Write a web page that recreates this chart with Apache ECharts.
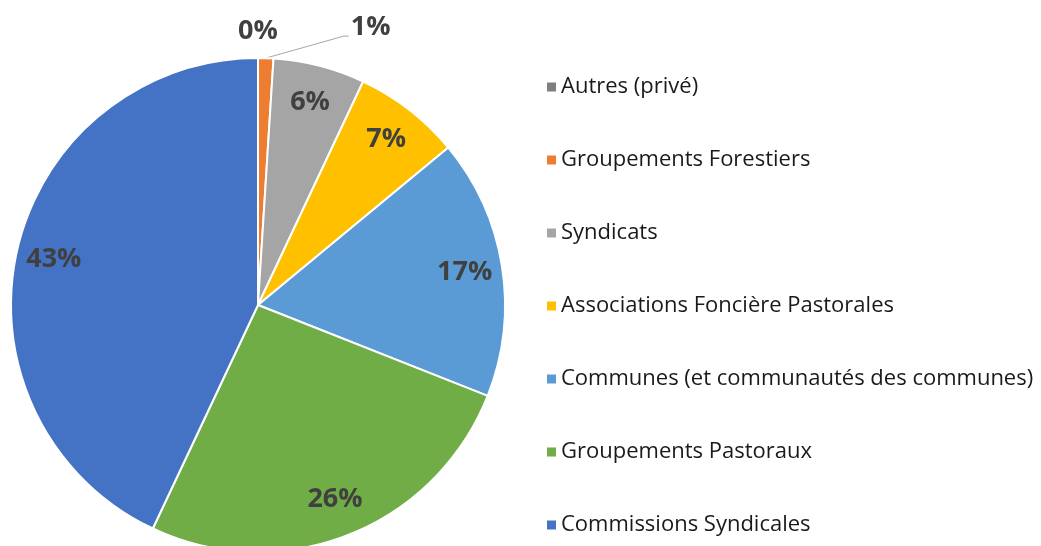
<!DOCTYPE html>
<html>
<head>
<meta charset="utf-8">
<script src="https://cdn.jsdelivr.net/npm/echarts@6/dist/echarts.min.js"></script>
<style>
  html, body { margin: 0; padding: 0; background: #fff; }
  #chart { width: 1041px; height: 546px; }
</style>
</head>
<body>
<div id="chart"></div>
<script>
// Répartition des gestionnaires (en %)
const categories = [
  'Autres (privé)',
  'Groupements Forestiers',
  'Syndicats',
  'Associations Foncière Pastorales',
  'Communes (et communautés des communes)',
  'Groupements Pastoraux',
  'Commissions Syndicales'
];
const shares = [0, 1, 6, 7, 17, 26, 43];
const colors = ['#7F7F7F', '#ED7D31', '#A5A5A5', '#FFC000', '#5B9BD5', '#70AD47', '#4472C4'];

const FONT = '"Open Sans", "Noto Sans", sans-serif';
const CENTER = [258, 305];
const R = 247;

const labelStyle = {
  fontFamily: FONT,
  fontSize: 27,
  fontWeight: 'bold',
  color: '#404040'
};

// Slices, with outside labels only for the two smallest shares
const sliceData = categories.map((name, i) => {
  const item = { name: name, value: shares[i], itemStyle: { color: colors[i] } };
  if (i === 0) {
    item.label = Object.assign({ show: true, position: 'outside', formatter: '{c}%', distanceToLabelLine: 0 }, labelStyle);
    item.labelLine = { show: false, length: 27, length2: 0 };
  } else if (i === 1) {
    item.label = Object.assign({ show: true, position: 'outside', formatter: '{c}%', distanceToLabelLine: 2 }, labelStyle);
    item.labelLine = { show: true, length: 31, length2: 82, lineStyle: { color: '#A6A6A6', width: 1 } };
  }
  return item;
});

// Transparent ring carrying the inner labels near the rim
const ringData = categories.map((name, i) => ({
  name: name,
  value: shares[i],
  label: { show: i > 1 }
}));

const chart = echarts.init(document.getElementById('chart'), null, { renderer: 'canvas' });
chart.setOption({
  backgroundColor: '#fff',
  animation: false,
  legend: {
    orient: 'vertical',
    left: 545,
    top: 72,
    padding: 0,
    itemGap: 43,
    itemWidth: 11,
    itemHeight: 11,
    icon: 'rect',
    data: categories,
    textStyle: { fontFamily: FONT, fontSize: 22, color: '#1A1A1A', lineHeight: 30, padding: [0, 0, 0, -1] },
    selectedMode: false
  },
  series: [
    {
      type: 'pie',
      center: CENTER,
      radius: R,
      startAngle: 90,
      clockwise: true,
      avoidLabelOverlap: false,
      itemStyle: { borderColor: '#fff', borderWidth: 2 },
      label: { show: false },
      labelLine: { show: false },
      emphasis: { disabled: true },
      labelLayout: function (params) {
        // centre the zero-share label above the top of the pie
        if (params.dataIndex === 0) {
          return { align: 'center' };
        }
        // slanted leader line ending under the label
        if (params.dataIndex === 1 && params.labelLinePoints) {
          const pts = params.labelLinePoints;
          const end = [pts[2][0], pts[2][1] + 9];
          return { labelLinePoints: [pts[0], [end[0] - 5, end[1]], end] };
        }
      },
      data: sliceData
    },
    {
      type: 'pie',
      center: CENTER,
      radius: [R * 0.67, R],
      startAngle: 90,
      clockwise: true,
      silent: true,
      avoidLabelOverlap: false,
      itemStyle: { color: 'rgba(0,0,0,0)', borderWidth: 0 },
      label: Object.assign({ position: 'inside', formatter: '{c}%' }, labelStyle),
      labelLine: { show: false },
      emphasis: { disabled: true },
      data: ringData
    }
  ]
});
</script>
</body>
</html>
